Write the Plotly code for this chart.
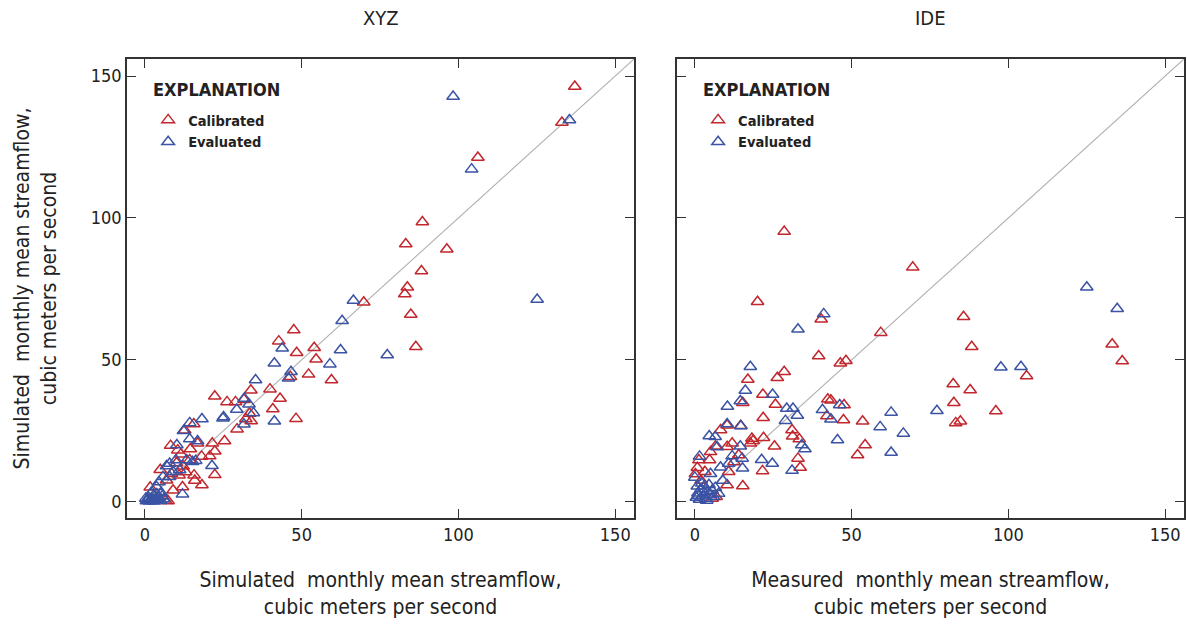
import plotly.graph_objects as go

# ---------------- data ----------------
# Left panel (XYZ): x = simulated (reference), y = simulated
xyz_cal_x = [137.1, 133.0, 106.2, 88.5, 83.2, 96.3, 88.2, 83.7, 82.9, 69.8, 84.8, 86.4,
             47.5, 42.7, 48.4, 54.0, 54.6, 52.2, 59.5, 46.4, 39.9, 43.1, 40.8, 48.2,
             33.8, 22.3, 26.2, 28.9, 31.6, 33.4, 32.2, 33.9, 29.4, 25.4, 21.5, 22.3,
             20.7, 22.3, 18.2, 18.1, 16.8, 15.6, 12.7, 8.2, 10.5, 11.5, 14.5, 15.7,
             15.9, 12.0, 9.0, 4.9, 6.9, 1.7, 6.6, 7.4, 12.2, 10.1, 14.3, 10.9, 13.0, 8.5]
xyz_cal_y = [146.3, 133.6, 121.3, 98.6, 90.8, 89.0, 81.3, 75.6, 73.2, 70.3, 66.0, 54.6,
             60.5, 56.6, 52.5, 54.3, 50.2, 44.9, 42.9, 44.1, 39.7, 36.4, 32.7, 29.3,
             39.3, 37.2, 35.2, 35.2, 36.0, 31.1, 29.2, 28.5, 25.6, 21.4, 20.6, 17.8,
             16.1, 9.5, 5.9, 16.0, 20.6, 27.4, 25.2, 19.8, 18.2, 16.8, 18.6, 9.4,
             7.5, 5.2, 4.1, 11.3, 7.6, 5.1, 0.5, 0.3, 12.5, 13.7, 14.7, 9.4, 10.5, 10.0]

xyz_eval_x = [98.3, 135.4, 104.2, 125.1, 66.5, 62.9, 62.4, 59.0, 77.3, 41.3, 43.8, 46.6,
              45.8, 35.3, 41.3, 25.1, 24.9, 31.7, 33.2, 29.3, 34.6, 31.6, 18.2, 14.3,
              12.3, 10.2, 14.3, 16.8, 21.4, 16.2, 6.9, 7.9, 9.9, 13.3, 15.2, 12.0,
              4.5, 5.8, 7.9, 9.0, 11.1, 3.7,
              0.5, 1.0, 1.5, 2.0, 2.5, 3.0, 3.5, 4.0, 4.5, 5.0, 5.5, 6.0, 1.2, 2.8,
              0.3, 3.8, 5.2, 2.2]
xyz_eval_y = [142.8, 134.5, 117.2, 71.3, 70.9, 63.8, 53.5, 48.5, 51.7, 48.8, 54.1, 45.8,
              43.5, 42.9, 28.4, 29.9, 29.4, 36.4, 34.4, 32.5, 31.3, 27.3, 29.2, 27.8,
              25.0, 20.0, 22.1, 21.4, 12.7, 14.5, 12.6, 13.5, 14.7, 14.7, 14.1, 2.7,
              7.0, 8.8, 8.8, 10.6, 11.2, 5.3,
              0.3, 0.8, 0.2, 1.0, 0.5, 0.2, 1.2, 0.6, 1.5, 0.4, 2.0, 1.0, 1.5, 2.2,
              1.2, 2.8, 3.2, 3.5]

# Right panel (IDE): x = measured, y = simulated
ide_cal_x = [28.5, 69.5, 20.0, 85.7, 40.3, 59.3, 88.3, 133.1, 136.3, 39.5, 46.4, 48.2,
             105.8, 82.4, 87.8, 28.5, 26.3, 16.9, 15.3, 21.7, 25.7, 42.4, 43.4, 47.6,
             82.6, 96.0, 83.2, 84.7, 53.5, 47.4, 42.1, 21.8, 54.3, 51.9, 31.0, 31.2,
             33.3, 25.4, 21.9, 18.2, 17.7, 32.9, 33.6, 21.6, 15.3, 10.3, 10.8, 8.2,
             10.3, 14.6, 11.9, 10.3, 5.0, 1.3, 4.7, 0.2, 3.2, 6.6, 5.5, 6.8, 14.0,
             18.6, 12.5, 2.0, 0.8]
ide_cal_y = [95.2, 82.6, 70.5, 65.2, 64.3, 59.6, 54.6, 55.5, 49.6, 51.4, 48.8, 49.7,
             44.3, 41.5, 39.4, 45.8, 43.7, 43.1, 34.9, 37.8, 34.3, 36.1, 35.8, 34.1,
             34.9, 32.0, 27.8, 28.4, 28.4, 28.8, 30.2, 29.6, 20.0, 16.5, 25.3, 23.1,
             22.1, 19.6, 22.6, 22.3, 20.6, 15.3, 12.1, 10.9, 5.6, 5.9, 10.6, 25.3,
             27.0, 26.8, 20.6, 19.4, 17.6, 14.7, 14.7, 9.8, 10.6, 19.6, 1.2, 1.8, 16.5,
             21.5, 14.0, 7.5, 12.0]

ide_eval_x = [125.0, 134.7, 41.1, 32.9, 17.7, 97.6, 104.0, 16.1, 24.8, 14.5, 10.4, 29.3,
              31.3, 40.7, 46.2, 62.6, 77.2, 28.9, 32.7, 43.4, 59.1, 66.5, 45.5, 62.6,
              34.1, 35.1, 24.7, 21.3, 31.0, 14.7, 10.3, 4.6, 6.5, 7.1, 1.5, 14.5,
              15.2, 8.2, 10.8, 11.9, 15.1, 8.9, 5.0, 0.0, 7.6,
              0.5, 1.0, 1.5, 2.0, 2.5, 3.0, 3.5, 4.0, 4.5, 5.0, 5.5, 6.0, 0.8, 2.2,
              3.8, 1.2, 6.5]
ide_eval_y = [75.6, 68.0, 66.2, 60.8, 47.6, 47.4, 47.6, 39.2, 37.8, 35.5, 33.6, 32.9,
              32.9, 32.4, 34.1, 31.5, 32.1, 28.6, 30.4, 29.1, 26.4, 24.1, 21.8, 17.4,
              20.0, 18.6, 13.5, 14.8, 11.0, 26.7, 27.4, 23.2, 22.9, 19.3, 16.0, 19.6,
              11.8, 12.2, 13.5, 16.1, 15.3, 7.5, 9.9, 8.6, 2.9,
              1.5, 3.0, 0.8, 4.5, 2.0, 5.5, 1.2, 3.5, 6.0, 2.5, 4.0, 1.8, 5.5, 6.5,
              0.5, 2.2, 5.0]

panel_titles = ["XYZ", "IDE"]
legend_heading = "EXPLANATION"
x_titles = ["Simulated  monthly mean streamflow,<br>cubic meters per second",
            "Measured  monthly mean streamflow,<br>cubic meters per second"]
y_title = "Simulated  monthly mean streamflow,<br>cubic meters per second"
tick_vals = [0, 50, 100, 150]
tick_text = ["0", "50", "100", "150"]
axis_range = [-5.7, 156]

# ---------------- style ----------------
FONT = "Liberation Sans Narrow, DejaVu Sans Condensed, Arial Narrow, sans-serif"
RED = "#c1272d"
BLUE = "#3a53a4"
AX = "#333333"
TXT = "#222222"

fig = go.Figure()

# 1:1 lines
for xa, ya in [("x", "y"), ("x2", "y2")]:
    fig.add_trace(go.Scatter(x=[0, axis_range[1]], y=[0, axis_range[1]], mode="lines",
                             line=dict(color="#b0b0b0", width=1.1), xaxis=xa, yaxis=ya,
                             showlegend=False, hoverinfo="skip"))

def tri(x, y, color, name, xa, ya, leg):
    return go.Scatter(x=x, y=y, mode="markers", name=name, xaxis=xa, yaxis=ya,
                      legend=leg,
                      marker=dict(symbol="triangle-up-open", size=11, color=color,
                                  line=dict(width=1.5, color=color)))

fig.add_trace(tri(xyz_cal_x, xyz_cal_y, RED, "Calibrated", "x", "y", "legend"))
fig.add_trace(tri(xyz_eval_x, xyz_eval_y, BLUE, "Evaluated", "x", "y", "legend"))
fig.add_trace(tri(ide_cal_x, ide_cal_y, RED, "Calibrated", "x2", "y2", "legend2"))
fig.add_trace(tri(ide_eval_x, ide_eval_y, BLUE, "Evaluated", "x2", "y2", "legend2"))

axis_common = dict(range=axis_range, tickvals=tick_vals, ticktext=tick_text,
                   ticks="inside", ticklen=9, tickwidth=1.3, tickcolor=AX,
                   showline=True, linecolor=AX, linewidth=1.5, mirror="ticks",
                   showgrid=False, zeroline=False,
                   tickfont=dict(family=FONT, size=18, color=TXT))

leg_common = dict(x=0.02, y=0.902, xanchor="left", yanchor="top",
                  bgcolor="rgba(0,0,0,0)",
                  font=dict(family=FONT, size=14.5, color=TXT, weight="bold"),
                  tracegroupgap=0, itemwidth=30)

fig.update_layout(
    width=1187, height=630,
    margin=dict(l=127, r=1, t=59, b=112),
    paper_bgcolor="white", plot_bgcolor="white",
    font=dict(family=FONT, size=18, color=TXT),
    xaxis=dict(domain=[0, 0.4797], anchor="y",
               title=dict(text=x_titles[0], standoff=28,
                          font=dict(family=FONT, size=21, color=TXT)),
               **axis_common),
    xaxis2=dict(domain=[0.5203, 1], anchor="y2",
                title=dict(text=x_titles[1], standoff=28,
                           font=dict(family=FONT, size=21, color=TXT)),
                **axis_common),
    yaxis=dict(domain=[0, 1], anchor="x",
               title=dict(text=y_title, standoff=28,
                          font=dict(family=FONT, size=21, color=TXT)),
               **axis_common),
    yaxis2=dict(domain=[0, 1], anchor="x2", showticklabels=False, **axis_common),
    legend=dict(**leg_common),
    legend2=dict(**{**leg_common, "x": 0.5403}),
    showlegend=True,
)

for i, t in enumerate(panel_titles):
    xr = "x domain" if i == 0 else "x2 domain"
    fig.add_annotation(text=t, xref=xr, yref="paper",
                       x=0.5, y=1 + 41 / 459, xanchor="center", yanchor="middle",
                       showarrow=False, font=dict(family=FONT, size=20, color=TXT))
    fig.add_annotation(text=legend_heading, xref=xr, yref="y domain",
                       x=24 / 508, y=1 - 30 / 459, xanchor="left", yanchor="middle",
                       showarrow=False,
                       font=dict(family=FONT, size=18, color=TXT, weight="bold"))

fig.write_html("out.html")
